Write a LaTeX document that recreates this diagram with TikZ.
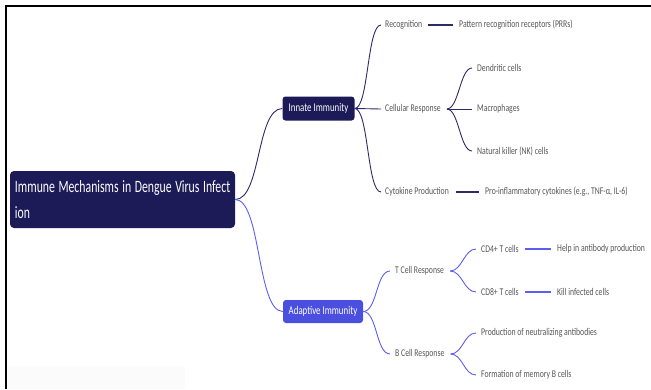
\documentclass[tikz,border=0pt]{standalone}
\usepackage{fontspec}
\newfontfamily\mmfont[FakeStretch=0.75]{Carlito}
\newfontfamily\rootfont[FakeStretch=0.68]{Carlito}
\definecolor{navybox}{HTML}{1C1A57}
\definecolor{bluebox}{HTML}{4B4FE0}
\definecolor{navyline}{HTML}{2B2A6B}
\definecolor{blueline}{HTML}{5C5EF0}
\definecolor{leafgray}{HTML}{555555}
\tikzset{
  rootbox/.style={fill=navybox, rounded corners=4pt, text=white, align=left,
    text width=215pt, inner xsep=5pt, inner ysep=0pt, minimum height=57pt,
    font=\rootfont\fontsize{17.3}{26}\selectfont},
  branchbox/.style={rounded corners=3pt, text=white, inner sep=0pt,
    font=\mmfont\fontsize{11.8}{14}\selectfont},
  leaf/.style={anchor=west, inner sep=0pt, text=leafgray,
    font=\mmfont\fontsize{10.3}{12}\selectfont},
  innateln/.style={draw=navyline, line width=0.9pt},
  adaptln/.style={draw=blueline, line width=0.9pt},
  innatebar/.style={draw=navyline, line width=1.4pt},
  adaptbar/.style={draw=blueline, line width=1.4pt},
}
\begin{document}
\begin{tikzpicture}[x=1pt,y=-1pt]
\useasboundingbox (0,0) rectangle (651,389);
% frame and faint shading at the lower left
\fill[black!1.5] (8,366) rectangle (185,389);
\draw[line width=2pt] (6,389) -- (6,6) -- (651,6);

% root and the two branches
\node[rootbox] (root) at (122.5,199.5) {\mbox{\spaceskip=3.6pt Immune Mechanisms in Dengue Virus Infect}\\ion};
\node[branchbox, fill=navybox, minimum width=72pt, minimum height=24pt] (innate) at (318.5,108.5) {Innate Immunity};
\node[branchbox, fill=bluebox, minimum width=80pt, minimum height=23pt] (adapt) at (323,311.5) {Adaptive Immunity};

% innate immunity
\node[leaf] (rec) at (385,25) {Recognition};
\node[leaf] (prr) at (459,25) {Pattern recognition receptors (PRRs)};
\node[leaf] (cell) at (385,109) {Cellular Response};
\node[leaf] (dend) at (477,68) {Dendritic cells};
\node[leaf] (macro) at (477,109) {Macrophages};
\node[leaf] (nk) at (477,151) {Natural killer (NK) cells};
\node[leaf] (cyto) at (385,192) {Cytokine Production};
\node[leaf] (pro) at (485,192) {Pro-inflammatory cytokines (e.g., TNF-α, IL-6)};

% adaptive immunity
\node[leaf] (tcell) at (395,271) {T Cell Response};
\node[leaf] (cdf) at (481,249) {CD4+ T cells};
\node[leaf] (help) at (557,249) {Help in antibody production};
\node[leaf] (cde) at (481,292) {CD8+ T cells};
\node[leaf] (kill) at (557,292) {Kill infected cells};
\node[leaf] (bcell) at (395,354) {B Cell Response};
\node[leaf] (neut) at (481,333) {Production of neutralizing antibodies};
\node[leaf] (mem) at (481,375) {Formation of memory B cells};

% connectors: root
\draw[innateln] (root.east) .. controls +(26,0) and +(-26,0) .. (innate.west);
\draw[adaptln] (root.east) .. controls +(26,0) and +(-26,0) .. (adapt.west);

% connectors: innate
\draw[innateln] (innate.east) .. controls +(14,0) and +(-14,0) .. ([xshift=-4pt]rec.west);
\draw[innateln] (innate.east) -- ([xshift=-4pt]cell.west);
\draw[innateln] (innate.east) .. controls +(14,0) and +(-14,0) .. ([xshift=-4pt]cyto.west);
\draw[innatebar] ([xshift=6pt]rec.east) -- ([xshift=-6pt]prr.west);
\draw[innateln] ([xshift=6pt]cell.east) .. controls +(12,0) and +(-12,0) .. ([xshift=-5pt]dend.west);
\draw[innateln] ([xshift=6pt]cell.east) -- ([xshift=-5pt]macro.west);
\draw[innateln] ([xshift=6pt]cell.east) .. controls +(12,0) and +(-12,0) .. ([xshift=-5pt]nk.west);
\draw[innatebar] ([xshift=7pt]cyto.east) -- ([xshift=-6pt]pro.west);

% connectors: adaptive
\draw[adaptln] (adapt.east) .. controls +(14,0) and +(-14,0) .. ([xshift=-5pt]tcell.west);
\draw[adaptln] (adapt.east) .. controls +(14,0) and +(-14,0) .. ([xshift=-5pt]bcell.west);
\draw[adaptln] ([xshift=6pt]tcell.east) .. controls +(12,0) and +(-12,0) .. ([xshift=-5pt]cdf.west);
\draw[adaptln] ([xshift=6pt]tcell.east) .. controls +(12,0) and +(-12,0) .. ([xshift=-5pt]cde.west);
\draw[adaptbar] ([xshift=6pt]cdf.east) -- ([xshift=-6pt]help.west);
\draw[adaptbar] ([xshift=6pt]cde.east) -- ([xshift=-6pt]kill.west);
\draw[adaptln] ([xshift=6pt]bcell.east) .. controls +(12,0) and +(-12,0) .. ([xshift=-5pt]neut.west);
\draw[adaptln] ([xshift=6pt]bcell.east) .. controls +(12,0) and +(-12,0) .. ([xshift=-5pt]mem.west);
\end{tikzpicture}
\end{document}
